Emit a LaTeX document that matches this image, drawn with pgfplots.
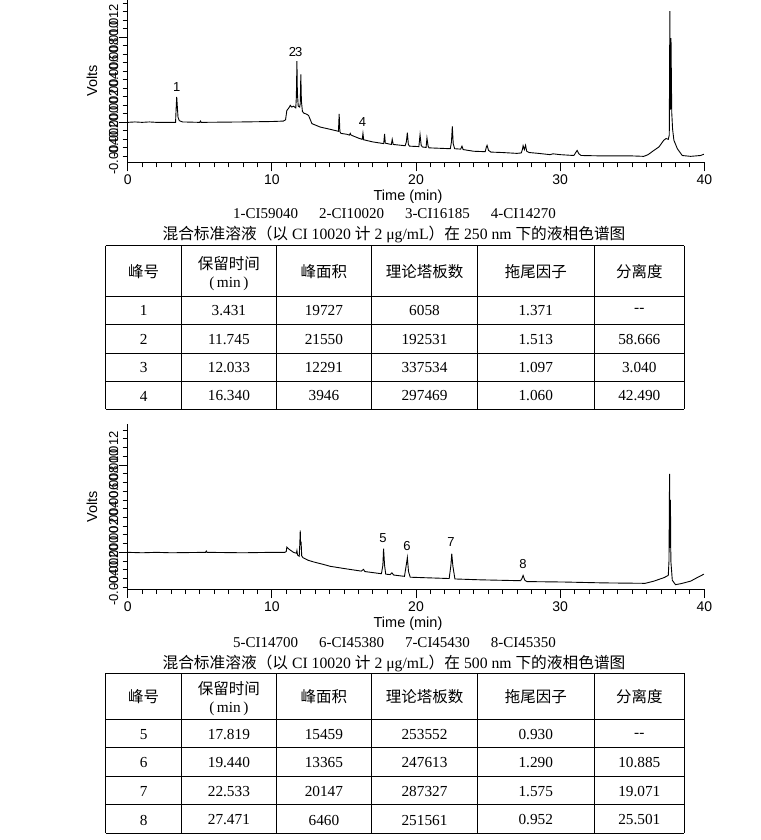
\documentclass[border=0pt]{standalone}
\usepackage{pgfplots}
\pgfplotsset{compat=1.18}
\usepackage{fontspec}
\setmainfont{Liberation Serif}
\newfontfamily\arial{Liberation Sans}
\newfontfamily\cjk{Noto Sans CJK SC}

\pgfplotsset{
  chrom/.style={
    scale only axis, width=576.6pt,
    axis x line=bottom, axis y line=left,
    axis line style={-, line width=0.9pt},
    xmin=0, xmax=40,
    xtick={0,10,20,30,40}, xticklabels={0,10,20,30,40},
    minor xtick={0,1,...,40},
    ytick={0,10}, yticklabels={,,},
    minor ytick={-4,-3,...,14},
    extra y ticks={-4,-2,0,2,4,6,8,10,12},
    extra y tick labels={-0.004,-0.002,0.000,0.002,0.004,0.006,0.008,0.010,0.012},
    extra y tick style={major tick length=0pt},
    tick align=outside,
    major tick length=9pt, minor tick length=5pt,
    tick style={black, line width=0.8pt},
    xticklabel style={font=\arial\fontsize{14}{16}\selectfont},
    yticklabel shift=6pt,
    yticklabel style={rotate=90, anchor=south, font=\arial\fontsize{13}{15}\selectfont},
    xlabel={Time (min)}, ylabel={Volts},
    every axis x label/.style={at={(axis description cs:0.5,0)}, anchor=center, yshift=-34.8pt, xshift=-8pt},
    every axis y label/.style={at={(axis description cs:0,0.5)}, xshift=-35.7pt, anchor=center, rotate=90},
    label style={font=\arial\fontsize{14.5}{17}\selectfont},
    clip=false,
  },
  trace/.style={black, line width=0.9pt, mark=none},
}
\tikzset{pk/.style={font=\arial\fontsize{13}{15}\selectfont, inner sep=0pt}}

\begin{document}
\begin{tikzpicture}
\path[use as bounding box] (0pt,0pt) rectangle (760pt,-840pt);

% ---- 250 nm chromatogram
\begin{axis}[chrom, at={(127.7pt,-162.3pt)}, anchor=south west,
  height=162.3pt, ymin=-4.7, ymax=14.4]
\addplot[trace] coordinates {
 (0,0) (0.5,0.05) (1,0) (1.5,0.05) (2,0) (3.0,0) (3.32,0) (3.37,2.0) (3.40,3.0) (3.43,2.2)
 (3.49,0.6) (3.58,0.2) (3.8,0.05) (5.0,0) (5.05,0.15) (5.1,0) (8,0.05) (10,0.1) (10.8,0.15)
 (10.95,0.3) (11.04,1.4) (11.18,1.7) (11.28,2.0) (11.38,1.8) (11.5,1.9) (11.66,1.7) (11.70,3.0)
 (11.74,7.2) (11.77,3.5) (11.83,1.9) (11.93,1.8) (11.97,2.2) (12.01,5.65) (12.05,2.5) (12.12,1.3)
 (12.2,1.1) (12.43,0.95) (12.55,0.8) (12.78,-0.15) (13.35,-0.55) (14.0,-0.8) (14.5,-1.0)
 (14.62,-1.05) (14.67,1.0) (14.72,-1.1) (14.8,-1.3) (15.2,-1.4) (15.38,-1.5) (15.44,-1.3)
 (15.5,-1.5) (16.0,-1.85) (16.27,-2.0) (16.32,-1.3) (16.37,-2.05) (17.0,-2.3) (17.76,-2.5)
 (17.82,-1.35) (17.87,-2.45) (18.29,-2.6) (18.35,-2.0) (18.42,-2.6) (19.25,-2.75) (19.33,-2.3)
 (19.40,-1.2) (19.47,-2.6) (19.55,-2.8) (20.2,-2.85) (20.28,-1.45) (20.36,-2.7) (20.45,-2.9)
 (20.7,-2.95) (20.76,-1.85) (20.84,-2.8) (20.9,-3.0) (22.38,-3.1) (22.46,-2.3) (22.52,-0.47)
 (22.58,-2.5) (22.68,-3.1) (23.1,-3.15) (23.19,-2.8) (23.27,-3.2) (24.0,-3.4) (24.8,-3.45)
 (24.88,-2.9) (24.93,-2.7) (25.03,-3.3) (25.2,-3.5) (26,-3.55) (27.0,-3.65) (27.3,-3.6)
 (27.38,-3.2) (27.43,-2.75) (27.52,-3.2) (27.6,-2.7) (27.68,-3.4) (27.85,-3.55) (28.5,-3.65)
 (29.3,-3.8) (29.5,-3.7) (30,-3.8) (30.95,-3.9) (31.1,-3.5) (31.18,-3.3) (31.3,-3.7)
 (31.45,-3.9) (33,-3.95) (35,-3.95) (35.8,-4.0) (36.1,-3.8) (36.5,-3.3) (36.85,-2.9)
 (37.19,-2.1) (37.35,-1.9) (37.5,-2.0) (37.57,-1.5) (37.61,13.1) (37.65,1.5) (37.69,9.9)
 (37.74,1.2) (37.8,-0.8) (37.89,-2.1) (38.13,-3.1) (38.47,-3.9) (39.05,-4.0) (39.74,-3.9)
 (39.97,-3.75)
};
\node[pk] at (axis cs:3.40,4.15) {1};
\node[pk] at (axis cs:11.44,8.3) {2};
\node[pk] at (axis cs:11.86,8.3) {3};
\node[pk] at (axis cs:16.29,0.0) {4};
\end{axis}

% ---- 500 nm chromatogram
\begin{axis}[chrom, at={(127.7pt,-589pt)}, anchor=south west,
  height=165pt, ymin=-4.2, ymax=14.7]
\addplot[trace] coordinates {
 (0,0) (1,-0.05) (2,0) (3,-0.05) (5.4,0) (5.45,0.15) (5.5,0) (8,-0.05) (10,0) (10.9,0)
 (11.0,0.1) (11.04,0.6) (11.2,0.35) (11.5,0.0) (11.7,-0.1) (11.74,0.2) (11.78,-0.3) (11.9,-0.45)
 (11.94,1.0) (11.97,2.5) (12.0,0.8) (12.03,1.2) (12.07,-0.4) (12.15,-0.6) (12.5,-0.9) (12.9,-1.1)
 (13.5,-1.35) (14.05,-1.6) (15,-1.85) (16.2,-2.15) (16.36,-1.95) (16.45,-2.2) (17.6,-2.45)
 (17.7,-1.5) (17.75,0.42) (17.82,-1.5) (17.9,-2.5) (18.2,-2.55) (18.33,-2.35) (18.45,-2.6)
 (19.2,-2.75) (19.32,-1.5) (19.4,-0.6) (19.48,-2.2) (19.6,-2.85) (22.3,-3.0) (22.42,-1.5)
 (22.48,-0.15) (22.56,-1.6) (22.7,-3.05) (24.5,-3.15) (27.25,-3.25) (27.35,-3.0) (27.43,-2.65)
 (27.55,-3.2) (27.7,-3.35) (30.25,-3.4) (33,-3.5) (35.9,-3.55) (36.5,-3.3) (37.2,-2.9)
 (37.5,-2.65) (37.55,-1.0) (37.59,9.0) (37.62,0.5) (37.65,6.0) (37.68,-1.0) (37.78,-3.2)
 (38.0,-3.7) (38.35,-3.6) (39.05,-3.3) (39.5,-2.9) (39.97,-2.5)
};
\node[pk] at (axis cs:17.71,1.64) {5};
\node[pk] at (axis cs:19.38,0.72) {6};
\node[pk] at (axis cs:22.43,1.21) {7};
\node[pk] at (axis cs:27.43,-1.34) {8};
\end{axis}

\begin{scope}[x=1pt, y=-1pt]
% captions
\node[font=\fontsize{15}{17}\selectfont] at (394.5,214)
  {1-CI59040\hspace{21pt}2-CI10020\hspace{21pt}3-CI16185\hspace{21pt}4-CI14270};
\node[font=\fontsize{15.7}{18}\selectfont] at (394,234.5)
  {{\cjk 混合标准溶液（以} CI 10020 {\cjk 计} 2 μg/mL{\cjk ）在} 250 nm {\cjk 下的液相色谱图}};
\node[font=\fontsize{15}{17}\selectfont] at (394.5,643)
  {5-CI14700\hspace{21pt}6-CI45380\hspace{21pt}7-CI45430\hspace{21pt}8-CI45350};
\node[font=\fontsize{15.7}{18}\selectfont] at (394,663)
  {{\cjk 混合标准溶液（以} CI 10020 {\cjk 计} 2 μg/mL{\cjk ）在} 500 nm {\cjk 下的液相色谱图}};

% tables
\begin{scope}[line width=1pt]
\foreach \y in {245.7,296,324.3,353.3,381.7,409.3}
  \draw (105.7,\y) -- (684.3,\y);
\foreach \x in {105.7,181.7,276,371.7,477.3,594.3,684.3}
  \draw (\x,245.7) -- (\x,409.3);
\foreach \y in {673.3,719.3,747.7,776.7,804.3,833.3}
  \draw (105.7,\y) -- (684.3,\y);
\foreach \x in {105.7,181.7,276,371.7,477.3,594.3,684.3}
  \draw (\x,673.3) -- (\x,833.3);
\end{scope}

\tikzset{cj/.style={font=\cjk\fontsize{15.5}{17}\selectfont, inner sep=0pt},
         tv/.style={font=\fontsize{15.3}{17}\selectfont, inner sep=0pt}}
\foreach \hy/\ha/\hb in {272/263.5/284/, 697/688.5/709}{
  \node[cj] at (143.7,\hy) {峰号};
  \node[cj] at (228.9,\ha) {保留时间};
  \node[tv] at (228.9,\hb) {(\,min\,)};
  \node[cj] at (323.9,\hy) {峰面积};
  \node[cj] at (424.5,\hy) {理论塔板数};
  \node[cj] at (535.8,\hy) {拖尾因子};
  \node[cj] at (639.3,\hy) {分离度};
}
\foreach \ry/\a/\b/\c/\d/\e/\f in {
  310.5/1/3.431/19727/6058/1.371/-{}-,
  339.5/2/11.745/21550/192531/1.513/58.666,
  368/3/12.033/12291/337534/1.097/3.040,
  396/4/16.340/3946/297469/1.060/42.490,
  735/5/17.819/15459/253552/0.930/-{}-,
  763/6/19.440/13365/247613/1.290/10.885,
  791.5/7/22.533/20147/287327/1.575/19.071,
  820/8/27.471/6460/251561/0.952/25.501}{
  \node[tv] at (143.7,\ry) {\a};
  \node[tv] at (228.9,\ry) {\b};
  \node[tv] at (323.9,\ry) {\c};
  \node[tv] at (424.5,\ry) {\d};
  \node[tv] at (535.8,\ry) {\e};
  \node[tv] at (639.3,\ry) {\f};
}
\end{scope}
\end{tikzpicture}
\end{document}
